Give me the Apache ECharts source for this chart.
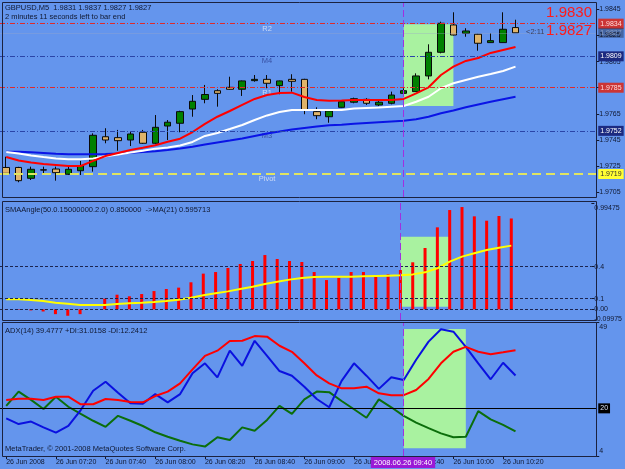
<!DOCTYPE html>
<html>
<head>
<meta charset="utf-8">
<script src="https://cdn.jsdelivr.net/npm/echarts@6/dist/echarts.min.js"></script>
<style>
html, body { margin: 0; padding: 0; background: #6495ed; }
#chart { width: 625px; height: 469px; }
</style>
</head>
<body>
<div id="chart"></div>
<script>
// GBPUSD M5, 26 Jun 2008, 07:00 - 10:25

/// data

const times = ['07:00','07:05','07:10','07:15','07:20','07:25','07:30','07:35','07:40','07:45',
  '07:50','07:55','08:00','08:05','08:10','08:15','08:20','08:25','08:30','08:35',
  '08:40','08:45','08:50','08:55','09:00','09:05','09:10','09:15','09:20','09:25',
  '09:30','09:35','09:40','09:45','09:50','09:55','10:00','10:05','10:10','10:15',
  '10:20','10:25']
const padSlots = ['10:30','10:35','10:40','10:45','10:50','10:55']

const opens = [1.97240,1.97240,1.97157,1.97220,1.97228,1.97188,1.97215,1.97246,1.97475,1.97468,
  1.97450,1.97509,1.97425,1.97557,1.97578,1.97687,1.97761,1.97827,1.97853,1.97838,
  1.97904,1.97914,1.97866,1.97914,1.97914,1.97667,1.97628,1.97700,1.97739,1.97761,
  1.97718,1.97731,1.97807,1.97820,1.97940,1.98121,1.98330,1.98266,1.98259,1.98195,
  1.98195,1.98310]
const highs = [1.97322,1.97245,1.97246,1.97246,1.97246,1.97246,1.97290,1.97501,1.97540,1.97527,
  1.97514,1.97527,1.97641,1.97603,1.97674,1.97794,1.97871,1.97838,1.97934,1.97905,
  1.97947,1.97947,1.97905,1.97953,1.97918,1.97700,1.97675,1.97745,1.97774,1.97770,
  1.97756,1.97820,1.97846,1.97960,1.98182,1.98355,1.98427,1.98305,1.98262,1.98266,
  1.98427,1.98370]
const lows = [1.97182,1.97127,1.97144,1.97188,1.97139,1.97182,1.97182,1.97208,1.97425,1.97368,
  1.97404,1.97420,1.97420,1.97450,1.97509,1.97628,1.97731,1.97705,1.97836,1.97787,
  1.97896,1.97846,1.97800,1.97820,1.97647,1.97609,1.97582,1.97698,1.97731,1.97718,
  1.97710,1.97723,1.97802,1.97818,1.97914,1.98113,1.98250,1.98240,1.98133,1.98193,
  1.98193,1.98270]
const closes = [1.97195,1.97139,1.97226,1.97222,1.97200,1.97226,1.97254,1.97486,1.97450,1.97445,
  1.97496,1.97425,1.97547,1.97586,1.97667,1.97746,1.97798,1.97807,1.97838,1.97902,
  1.97914,1.97884,1.97902,1.97899,1.97680,1.97636,1.97672,1.97743,1.97766,1.97731,
  1.97739,1.97794,1.97827,1.97940,1.98121,1.98343,1.98253,1.98284,1.98190,1.98210,
  1.98297,1.98270]

const maFast = [1.97320,1.97293,1.97278,1.97267,1.97259,1.97251,1.97251,1.97290,1.97328,1.97351,
  1.97374,1.97391,1.97410,1.97437,1.97460,1.97511,1.97573,1.97628,1.97672,1.97718,
  1.97764,1.97794,1.97810,1.97812,1.97779,1.97756,1.97751,1.97752,1.97756,1.97756,
  1.97756,1.97756,1.97764,1.97807,1.97853,1.97947,1.98011,1.98055,1.98077,1.98116,
  1.98139,1.98162]
const maMid = [1.97358,1.97347,1.97332,1.97320,1.97309,1.97303,1.97303,1.97309,1.97325,1.97339,
  1.97355,1.97368,1.97384,1.97393,1.97408,1.97435,1.97481,1.97504,1.97534,1.97565,
  1.97603,1.97638,1.97664,1.97680,1.97680,1.97680,1.97680,1.97680,1.97691,1.97695,
  1.97699,1.97705,1.97710,1.97743,1.97781,1.97846,1.97884,1.97909,1.97934,1.97955,
  1.97978,1.98011]
const maSlow = [1.97361,1.97361,1.97356,1.97351,1.97345,1.97341,1.97341,1.97341,1.97343,1.97347,
  1.97353,1.97358,1.97364,1.97374,1.97385,1.97399,1.97416,1.97431,1.97446,1.97462,
  1.97481,1.97500,1.97515,1.97531,1.97542,1.97553,1.97563,1.97567,1.97574,1.97580,
  1.97586,1.97592,1.97598,1.97609,1.97628,1.97654,1.97676,1.97700,1.97722,1.97743,
  1.97762,1.97781]

const pivotNames = ['R2', 'M4', 'R1', 'M3', 'Pivot']
const pivotValues = [1.9834, 1.9809, 1.9785, 1.9752, 1.9719]
const bidPrice = 1.9827
const priceTicks = [1.9705, 1.9725, 1.9745, 1.9765, 1.9785, 1.9805, 1.9825, 1.9845]

const smaAngle = [-0.005,-0.004,-0.010,-0.020,-0.045,-0.060,-0.045,0,0.100,0.137,
  0.122,0.143,0.171,0.190,0.203,0.253,0.334,0.349,0.387,0.424,
  0.452,0.508,0.471,0.452,0.443,0.349,0.274,0.296,0.349,0.349,
  0.321,0.327,0.368,0.440,0.574,0.767,0.929,0.957,0.870,0.829,
  0.873,0.850]
const smaAngleMA = [0.094,0.094,0.087,0.078,0.062,0.053,0.041,0.041,0.041,0.050,
  0.056,0.062,0.069,0.078,0.090,0.109,0.131,0.150,0.168,0.190,
  0.212,0.237,0.259,0.278,0.293,0.302,0.306,0.306,0.306,0.309,
  0.312,0.315,0.318,0.327,0.346,0.384,0.446,0.493,0.524,0.555,
  0.577,0.596]
const angleLevels = [0.4, 0.1, 0]
const angleTicks = [-0.09975, 0, 0.1, 0.4, 0.99475]

const adx = [22.80,23.22,23.22,22.80,23.91,23.91,21.37,21.37,23.13,22.80,
  22.11,22.02,24.14,25.62,28.39,33.10,37.62,39.37,42.60,42.70,
  44.27,44.08,41.03,39.00,35.13,31.06,28.39,26.73,26.73,27.28,
  25.06,24.42,24.42,26.17,29.86,35.13,39.00,40.67,39.00,38.17,
  38.82,39.48]
const plusDI = [16.66,14.73,15.56,13.62,11.86,14.08,19.43,25.90,28.94,25.25,
  21.74,21.56,24.79,22.02,24.79,31.80,35.13,30.42,39.37,34.29,
  42.70,37.62,32.54,30.97,27.28,23.13,20.36,29.22,35.13,30.97,
  26.54,30.42,29.49,36.33,42.42,46.57,45.74,40.67,35.13,29.77,
  35.31,31.02]
const minusDI = [20.82,25.62,22.85,19.80,23.91,20.54,18.14,15.83,13.80,17.49,
  15.83,14.08,11.96,10.48,9.14,7.90,7.16,10.29,9.37,13.62,
  12.51,16.11,20.82,18.14,23.03,25.62,25.43,22.48,19.71,16.85,
  23.03,20.36,17.49,15.19,13.34,11.59,10.29,10.48,19.06,16.29,
  14.45,12.24]
const adxLevel = 20
const adxTicks = [4, 49]

// highlighted zones (rectangle objects on the chart) and the vertical marker
const markTime = '09:40'
const zonePrice = { from: '09:40', to: '10:00', top: 1.98335, bottom: 1.9771 }
const zoneAngle = { from: '09:40', to: '10:00', top: 0.679, bottom: 0.024 }
const zoneAdx = { from: '09:40', to: '10:05', top: 46.65, bottom: 6.59 }


/// style

const ink = '#101830'
const font = 'Liberation Sans'
const zoneFill = '#a9f2a0'
const purple = '#a030e0'
const pivotLook = [
  { line: '#e02a2a', type: [5, 2, 1, 2], width: 1, box: '#cc3535', text: '#ffdcdc', name: '#e4eaf8' },
  { line: '#2a45a8', type: [5, 2, 1, 2], width: 1, box: '#1c2a80', text: '#ffffff', name: '#2c3f90' },
  { line: '#e02a2a', type: [5, 2, 1, 2], width: 1, box: '#cc3535', text: '#ffdcdc', name: '#e4eaf8' },
  { line: '#2a45a8', type: [5, 2, 1, 2], width: 1, box: '#1c2a80', text: '#ffffff', name: '#2c3f90' },
  { line: '#dfe462', type: [9, 5], width: 2, box: '#ffff33', text: '#303030', name: '#e4eaf8' }
]

const slots = times.concat(padSlots)
const grids = [
  { left: -3.75, right: 28.75, top: 3, height: 194 },
  { left: -3.75, right: 28.75, top: 203, height: 117 },
  { left: -3.75, right: 28.75, top: 322, height: 134 }
]
const labelEvery = (idx) => idx % 4 === 0 && idx < times.length

function xAxis(i, labels) {
  return {
    type: 'category', gridIndex: i, data: slots, boundaryGap: true,
    axisLine: { show: false }, splitLine: { show: false },
    axisTick: labels
      ? { show: true, interval: labelEvery, alignWithLabel: true, length: 3, lineStyle: { color: ink } }
      : { show: false },
    axisLabel: labels
      ? {
          show: true, interval: labelEvery, align: 'left', margin: 3,
          fontSize: 7, fontFamily: font, color: ink,
          formatter: (v, idx) => idx === 0 ? '26 Jun 2008' : '26 Jun ' + v
        }
      : { show: false }
  }
}

const edgeRich = {
  t: { padding: [10, 0, 0, 0], fontSize: 7, fontFamily: font, color: ink },
  b: { padding: [0, 0, 10, 0], fontSize: 7, fontFamily: font, color: ink },
  n: { padding: [0, 0, 1, 0], fontSize: 7, fontFamily: font, color: ink }
}

function yAxis(i, min, max, ticks, fmt) {
  return {
    type: 'value', gridIndex: i, position: 'right', min, max,
    splitLine: { show: false }, axisLine: { show: false },
    axisTick: { show: true, length: 3, customValues: ticks, lineStyle: { color: ink } },
    axisLabel: {
      customValues: ticks, formatter: fmt, margin: 3,
      showMinLabel: true, showMaxLabel: true,
      fontSize: 7, fontFamily: font, color: ink, rich: edgeRich
    }
  }
}

function vLine() {
  return {
    silent: true, symbol: ['none', 'none'],
    label: { show: false },
    lineStyle: { color: purple, type: [7, 3], width: 1 },
    data: [{ xAxis: markTime }]
  }
}

function zone(z) {
  return {
    silent: true,
    itemStyle: { color: zoneFill },
    data: [[{ xAxis: z.from, yAxis: z.top }, { xAxis: z.to, yAxis: z.bottom }]]
  }
}

function boxLabel(text, bg, color) {
  return {
    show: true, position: 'end', distance: 2, formatter: text,
    backgroundColor: bg, color, padding: [2, 2, 1, 2],
    fontSize: 7, fontFamily: font
  }
}

const candles = times.map((t, i) => [opens[i], closes[i], lows[i], highs[i]])

const pivotLines = pivotValues.map((v, k) => ({
  yAxis: v,
  lineStyle: { color: pivotLook[k].line, type: pivotLook[k].type, width: pivotLook[k].width },
  label: boxLabel(v.toFixed(4), pivotLook[k].box, pivotLook[k].text)
}))
pivotLines.push({
  yAxis: bidPrice,
  lineStyle: { color: '#9aa6c8', type: 'solid', width: 1, opacity: 0.35 },
  label: boxLabel(bidPrice.toFixed(4), '#0c0c14', '#ffffff')
})

const pivotLabelBar = 21
const pivotTags = pivotValues.map((v, k) => ({
  value: [pivotLabelBar, v], name: pivotNames[k],
  label: { color: pivotLook[k].name }
}))

function text(x, y, str, opt) {
  return {
    type: 'text', x, y, z: 100, silent: true,
    style: Object.assign({
      text: str, fill: ink, fontSize: 7.5, fontFamily: font,
      align: 'left', verticalAlign: 'middle'
    }, opt || {})
  }
}
function frame(x, y, w, h) {
  return {
    type: 'rect', z: 90, silent: true,
    shape: { x, y, width: w, height: h },
    style: { fill: 'none', stroke: '#1b2240', lineWidth: 1 }
  }
}


/// chart

const chart = echarts.init(document.getElementById('chart'))

chart.setOption({
  animation: false,
  backgroundColor: '#6495ed',
  grid: grids,
  xAxis: [xAxis(0, false), xAxis(1, false), xAxis(2, true)],
  yAxis: [
    yAxis(0, 1.97014, 1.98498, priceTicks, (v) => v.toFixed(4)),
    yAxis(1, -0.09975, 0.99475, angleTicks, (v) =>
      v === 0.99475 ? '{t|0.99475}' : v === -0.09975 ? '{n|-0.09975}' : v === 0 ? '0.00' : String(v)),
    yAxis(2, 4, 49, adxTicks, (v) => v === 49 ? '{t|49}' : '{b|4}')
  ],
  series: [
    {
      type: 'line', name: 'maSlow', xAxisIndex: 0, yAxisIndex: 0, data: maSlow,
      symbol: 'none', lineStyle: { color: '#0a14e6', width: 2 },
      markArea: zone(zonePrice),
      markLine: { silent: true, precision: 6, symbol: ['none', 'none'], data: pivotLines }
    },
    {
      type: 'line', name: 'maMid', xAxisIndex: 0, yAxisIndex: 0, data: maMid,
      symbol: 'none', lineStyle: { color: '#ffffff', width: 2 }
    },
    {
      type: 'line', name: 'maFast', xAxisIndex: 0, yAxisIndex: 0, data: maFast,
      symbol: 'none', lineStyle: { color: '#ff0000', width: 2 },
      markLine: vLine()
    },
    {
      type: 'candlestick', name: 'GBPUSD', xAxisIndex: 0, yAxisIndex: 0,
      data: candles, barWidth: 7,
      itemStyle: {
        color: '#008000', color0: '#dfb46a',
        borderColor: '#0a0a0a', borderColor0: '#0a0a0a', borderColorDoji: '#0a0a0a',
        borderWidth: 1
      }
    },
    {
      type: 'scatter', name: 'pivotNames', xAxisIndex: 0, yAxisIndex: 0,
      data: pivotTags, symbolSize: 0, silent: true,
      label: {
        show: true, position: 'bottom', distance: 1, formatter: '{b}',
        fontSize: 7.5, fontFamily: font
      }
    },
    {
      type: 'bar', name: 'SMAAngle', xAxisIndex: 1, yAxisIndex: 1, data: smaAngle,
      barWidth: 3, itemStyle: { color: '#ff0000' }
    },
    {
      type: 'line', name: 'MA(21)', xAxisIndex: 1, yAxisIndex: 1, data: smaAngleMA,
      symbol: 'none', lineStyle: { color: '#ffff00', width: 2 },
      markArea: zone(zoneAngle),
      markLine: {
        silent: true, symbol: ['none', 'none'], label: { show: false },
        data: angleLevels.map((v) => ({
          yAxis: v, lineStyle: { color: '#1b2450', type: [3, 2], width: 1 }
        })).concat([{
          xAxis: markTime, lineStyle: { color: purple, type: [7, 3], width: 1 }
        }])
      }
    },
    {
      type: 'line', name: '-DI', xAxisIndex: 2, yAxisIndex: 2, data: minusDI,
      symbol: 'none', lineStyle: { color: '#0b6e0b', width: 2 },
      markArea: zone(zoneAdx),
      markLine: {
        silent: true, symbol: ['none', 'none'],
        lineStyle: { color: '#000000', type: 'solid', width: 1 },
        data: [{ yAxis: adxLevel, label: boxLabel(String(adxLevel), '#000000', '#d8e0f0') }]
      }
    },
    {
      type: 'line', name: '+DI', xAxisIndex: 2, yAxisIndex: 2, data: plusDI,
      symbol: 'none', lineStyle: { color: '#0a10e0', width: 2 }
    },
    {
      type: 'line', name: 'ADX', xAxisIndex: 2, yAxisIndex: 2, data: adx,
      symbol: 'none', lineStyle: { color: '#ff0000', width: 2 },
      markLine: vLine()
    }
  ],
  graphic: [
    frame(2.5, 2.5, 594, 195),
    frame(2.5, 201.5, 594, 119),
    frame(2.5, 322.5, 594, 134),
    text(5, 7.5, 'GBPUSD,M5  1.9831 1.9837 1.9827 1.9827'),
    text(5, 16.5, '2 minutes 11 seconds left to bar end'),
    text(592, 12.5, '1.9830', { fill: '#ff1a1a', fontSize: 15, align: 'right' }),
    text(592, 30.5, '1.9827', { fill: '#ff1a1a', fontSize: 15, align: 'right' }),
    text(526, 32, '<2:11', { fill: '#3a3f5c' }),
    text(5, 210, 'SMAAngle(50.0.15000000.2.0) 0.850000  ->MA(21) 0.595713'),
    text(5, 331, 'ADX(14) 39.4777 +DI:31.0158 -DI:12.2412'),
    text(5, 449, 'MetaTrader, \u00a9 2001-2008 MetaQuotes Software Corp.'),
    text(403, 462.5, '2008.06.26 09:40', {
      fill: '#ffffff', fontSize: 7.5, align: 'center',
      backgroundColor: '#9a1ad6', padding: [2, 3, 1, 3]
    })
  ]
})
</script>
</body>
</html>
